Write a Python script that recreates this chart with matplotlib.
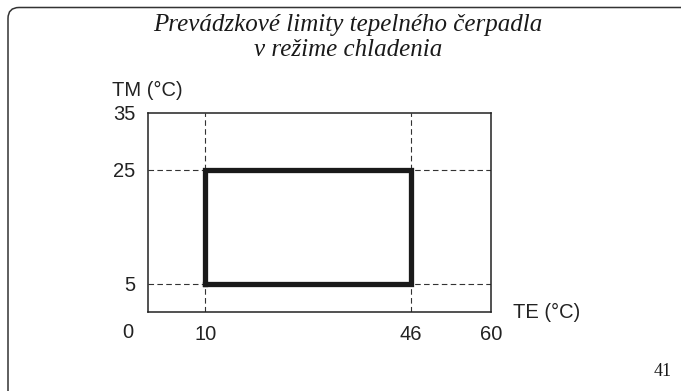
import matplotlib
matplotlib.use("Agg")
import matplotlib.pyplot as plt
from matplotlib.patches import FancyBboxPatch
from matplotlib.transforms import IdentityTransform

# operating limits of the heat pump in cooling mode
te_limits = [10, 46]      # outdoor temperature TE (°C)
tm_limits = [5, 25]       # water temperature TM (°C)
x_range = [0, 60]
y_range = [0, 35]
x_ticks = [10, 46, 60]
y_ticks = [5, 25, 35]

title_lines = ["Prevádzkové limity tepelného čerpadla", "v režime chladenia"]
page_no = "41"

W, H = 681, 391
fig = plt.figure(figsize=(W / 100, H / 100), dpi=100)
ax = fig.add_axes([148 / W, 1 - 312 / H, (491 - 148) / W, (312 - 113) / H])

# dashed guide lines through the limits
for x in te_limits:
    ax.axvline(x, color="#333333", lw=0.8, dashes=(5, 3), zorder=1)
for y in tm_limits:
    ax.axhline(y, color="#333333", lw=0.8, dashes=(5, 3), zorder=1)

# the operating envelope
xs = [te_limits[0], te_limits[1], te_limits[1], te_limits[0], te_limits[0]]
ys = [tm_limits[0], tm_limits[0], tm_limits[1], tm_limits[1], tm_limits[0]]
ax.plot(xs, ys, color="#1a1a1a", lw=3.8, solid_joinstyle="miter", zorder=3)

ax.set_xlim(x_range)
ax.set_ylim(y_range)
ax.set_xticks(x_ticks)
ax.set_yticks(y_ticks)
ax.tick_params(length=0, pad=9, labelsize=14.5, colors="#222222")
for lab in ax.get_xticklabels() + ax.get_yticklabels():
    lab.set_family("Liberation Sans")
for sp in ax.spines.values():
    sp.set_linewidth(1.1)
    sp.set_color("#222222")

# the lonely "0" at the corner
ax.annotate("0", xy=(0, 0), xytext=(-20, -20), textcoords="offset pixels",
            ha="center", va="center", fontsize=14.5, family="Liberation Sans",
            color="#222222")

fig.text(112 / W, 1 - 90 / H, "TM (°C)", ha="left", va="center",
         fontsize=14.5, family="Liberation Sans", color="#222222")
fig.text(513 / W, 1 - 312 / H, "TE (°C)", ha="left", va="center",
         fontsize=14.5, family="Liberation Sans", color="#222222")

for line, base in zip(title_lines, [31, 56]):
    fig.text(348 / W, 1 - base / H, line, ha="center", va="baseline",
             fontsize=18, family="Liberation Serif", style="italic",
             color="#1a1a1a")
fig.text(672 / W, 1 - 376 / H, page_no, ha="right", va="baseline",
         fontsize=13, family="Liberation Serif", color="#1a1a1a")

# rounded frame, only top-left corner is visible
frame = FancyBboxPatch((8, -30), 720, H - 7.5 + 30,
                       boxstyle="round,pad=0,rounding_size=11",
                       transform=IdentityTransform(), fill=False,
                       edgecolor="#333333", lw=1.1)
fig.add_artist(frame)

fig.savefig("out.png", dpi=100)
